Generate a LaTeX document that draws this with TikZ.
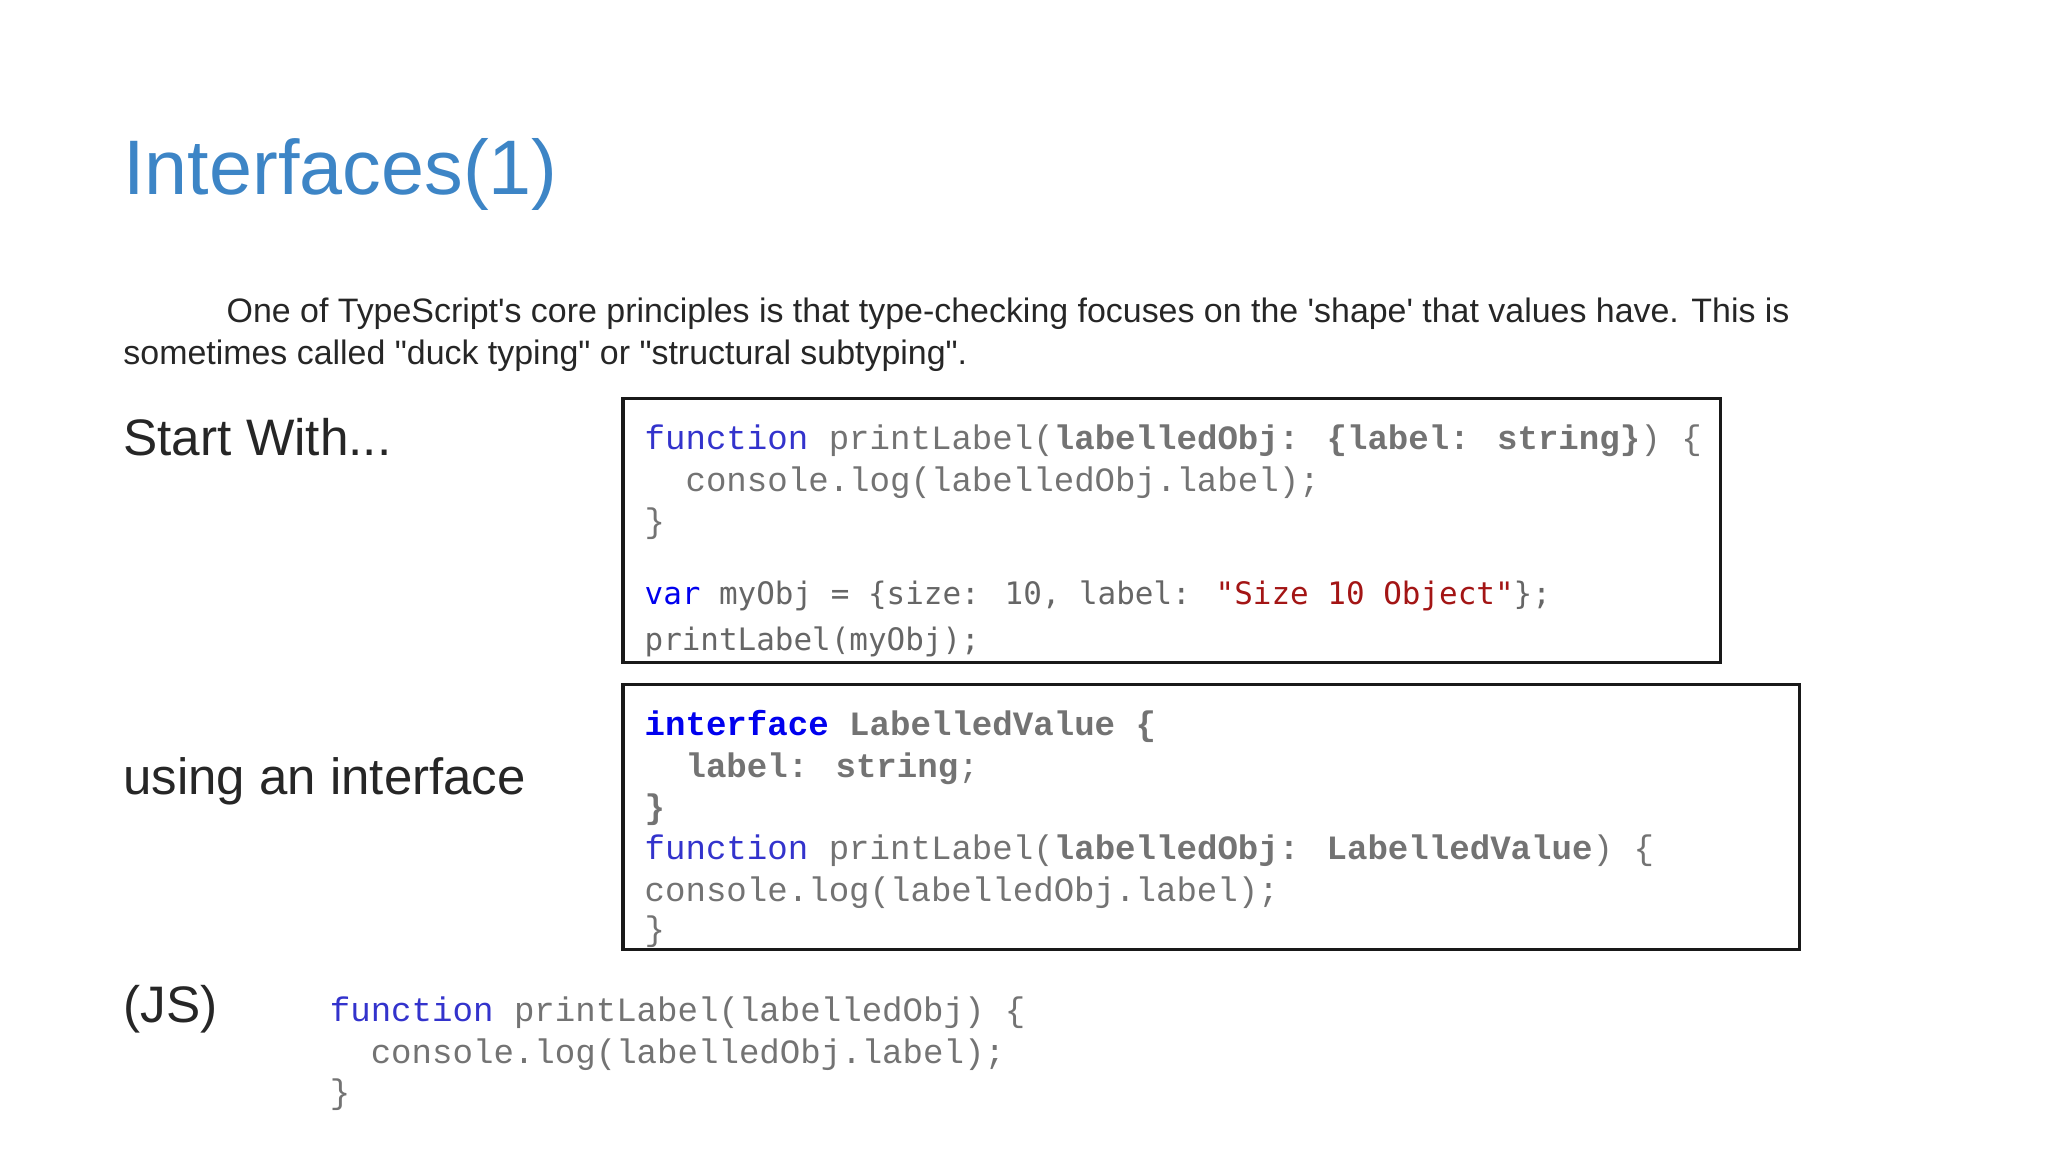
\documentclass[tikz,border=0pt]{standalone}
\usepackage{fontspec}
\setmainfont{Liberation Sans}[Ligatures=TeXOff]
\newfontfamily\cmono{Liberation Mono}
\newfontfamily\dmono{DejaVu Sans Mono}
\begin{document}
\begin{tikzpicture}[x=0.1306mm,y=-0.1306mm,
  txt/.style={anchor=base west,inner sep=0pt,text=black!85},
  cd/.style={anchor=base west,inner sep=0pt,font=\cmono\fontsize{9.7}{11}\selectfont,text=black!55},
  cd2/.style={anchor=base west,inner sep=0pt,font=\dmono\fontsize{8.8}{11}\selectfont,text=black!60},
  box/.style={draw=black!90,line width=0.9pt}]
\useasboundingbox (0,0) rectangle (1568,882);
\definecolor{kw}{HTML}{3333CC}
\definecolor{kw2}{HTML}{0000EE}
\definecolor{str}{HTML}{A31515}
\definecolor{ttl}{HTML}{3D85C6}
\node[txt,text=ttl,font=\fontsize{22}{26}\selectfont] (title) at (94,149) {Interfaces(1)};
\node[txt,font=\fontsize{9.65}{12}\selectfont] (p1) at (173,247) {One of TypeScript's core principles is that type-checking focuses on the 'shape' that values have. This is};
\node[txt,font=\fontsize{9.65}{12}\selectfont] (p2) at (94,279) {sometimes called "duck typing" or "structural subtyping".};
\node[txt,font=\fontsize{14.6}{18}\selectfont] (l1) at (94,349) {Start With...};
\node[txt,font=\fontsize{14.5}{18}\selectfont] (l2) at (94,608) {using an interface};
\node[txt,font=\fontsize{14.6}{18}\selectfont] (l3) at (94,783) {(JS)};
\draw[box] (477,305) rectangle (1317,507);
\draw[box] (477,524) rectangle (1378,727);
% box 1
\node[cd] (a1) at (493,344) {\textcolor{kw}{function} printLabel(\textbf{labelledObj: \{label: string\}}) \{};
\node[cd] (a2) at (493,376) {\ \ console.log(labelledObj.label);};
\node[cd] (a3) at (493,408) {\}};
\node[cd2] (a4) at (493,463) {\textcolor{kw2}{var} myObj = \{size: 10, label: \textcolor{str}{"Size 10 Object"}\};};
\node[cd2] (a5) at (493,498) {printLabel(myObj);};
% box 2
\node[cd] (b1) at (493,563) {\textbf{\textcolor{kw2}{interface} LabelledValue \{}};
\node[cd] (b2) at (493,595) {\ \ \textbf{label: string};};
\node[cd] (b3) at (493,627) {\textbf{\}}};
\node[cd] (b4) at (493,658) {\textcolor{kw}{function} printLabel(\textbf{labelledObj: LabelledValue}) \{};
\node[cd] (b5) at (493,690) {console.log(labelledObj.label);};
\node[cd] (b6) at (493,720) {\}};
% JS
\node[cd] (c1) at (252,782) {\textcolor{kw}{function} printLabel(labelledObj) \{};
\node[cd] (c2) at (252,814) {\ \ console.log(labelledObj.label);};
\node[cd] (c3) at (252,845) {\}};
\end{tikzpicture}
\end{document}
